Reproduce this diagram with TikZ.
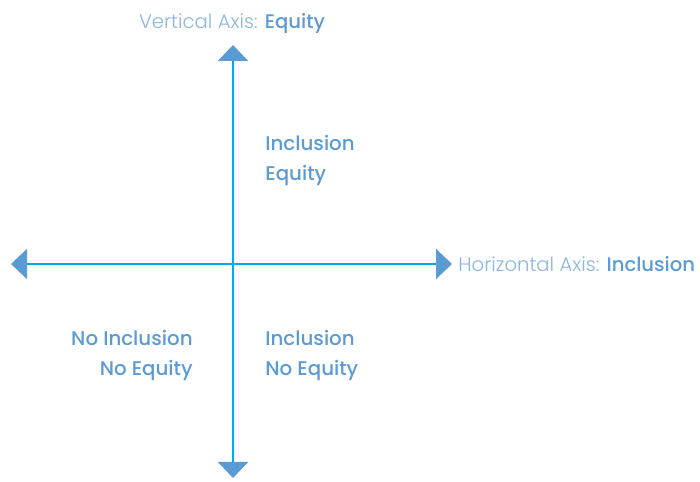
\documentclass[tikz,border=0pt]{standalone}
\usepackage{fontspec}
\setmainfont{Poppins}[UprightFont=* Light, BoldFont=* Medium]
\usepackage{xcolor}
\definecolor{axisline}{HTML}{00AAEE}
\definecolor{axishead}{HTML}{5B9BD5}
\definecolor{labeltext}{HTML}{5B9BD5}
\definecolor{titletext}{HTML}{8AB6E2}
\usetikzlibrary{arrows.meta}

\begin{document}
\begin{tikzpicture}[x=0.5pt, y=0.5pt]
  \useasboundingbox (0,0) rectangle (700,481);
  \coordinate (origin) at (233,217);
  \coordinate (top) at (233,436);
  \coordinate (bottom) at (233,3);
  \coordinate (left) at (11,217);
  \coordinate (right) at (452,217);
  \foreach \tip in {top, bottom, left, right} {
    \draw[axisline, line width=1pt, -{Triangle[width=15pt, length=8pt, color=axishead]}] (origin) -- (\tip);
  }
  \node[inner sep=0pt, text=titletext, font=\fontsize{9.8}{15}\selectfont] (vtitle) at (232,457) {Vertical Axis: \textcolor{labeltext}{\bfseries Equity}};
  \node[inner sep=0pt, anchor=west, text=titletext, font=\fontsize{9.8}{15}\selectfont] (htitle) at (458,217) {Horizontal Axis: \textcolor{labeltext}{\bfseries Inclusion}};
  \node[inner sep=0pt, anchor=west, align=left, text=labeltext, font=\fontsize{9.9}{15}\selectfont\bfseries] (incleq) at (265,321) {Inclusion\\Equity};
  \node[inner sep=0pt, anchor=west, align=left, text=labeltext, font=\fontsize{9.9}{15}\selectfont\bfseries] (inclnoeq) at (265,126) {Inclusion\\No Equity};
  \node[inner sep=0pt, anchor=east, align=right, text=labeltext, font=\fontsize{9.9}{15}\selectfont\bfseries] (noinclnoeq) at (193,126) {No Inclusion\\No Equity};
\end{tikzpicture}
\end{document}
